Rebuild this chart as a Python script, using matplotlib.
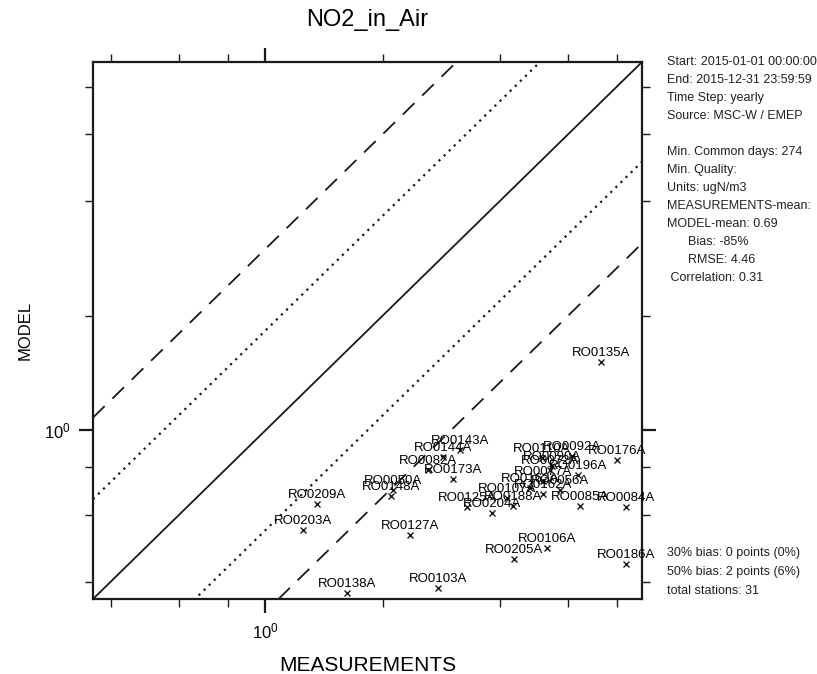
import numpy as np
import matplotlib
matplotlib.use("Agg")
import matplotlib.pyplot as plt
from matplotlib.ticker import FixedLocator, NullFormatter, LogFormatterSciNotation

plt.rcParams['font.family'] = ['Liberation Sans', 'DejaVu Sans']

# station values
stations = ['RO0135A', 'RO0176A', 'RO0092A', 'RO0084A', 'RO0085A', 'RO0186A',
            'RO0106A', 'RO0205A', 'RO0103A', 'RO0138A', 'RO0127A', 'RO0203A',
            'RO0209A', 'RO0050A', 'RO0148A', 'RO0082A', 'RO0144A', 'RO0143A',
            'RO0173A', 'RO0125A', 'RO0188A', 'RO0204A', 'RO0162A', 'RO0056A',
            'RO0077A', 'RO0196A', 'RO0072A', 'RO0110A', 'RO0090A', 'RO0107A',
            'RO0163A']
meas = [7.29, 8.02, 6.14, 8.46, 6.44, 8.46, 5.30, 4.36, 2.78, 1.62, 2.35, 1.25,
        1.357, 2.13, 2.10, 2.62, 2.86, 3.16, 3.04, 3.30, 4.33, 3.82, 5.17, 5.72,
        5.17, 6.37, 5.39, 5.14, 5.46, 4.18, 4.79]
model = [1.512, 0.835, 0.856, 0.629, 0.632, 0.445, 0.490, 0.459, 0.385, 0.373,
         0.530, 0.547, 0.640, 0.697, 0.672, 0.786, 0.851, 0.888, 0.745, 0.629,
         0.632, 0.606, 0.680, 0.697, 0.736, 0.763, 0.786, 0.846, 0.806, 0.664,
         0.705]

LIM = (0.36, 9.3)
DOT_F = 1.83
DASH_F = 3.0

info_top = ['Start: 2015-01-01 00:00:00', 'End: 2015-12-31 23:59:59',
            'Time Step: yearly', 'Source: MSC-W / EMEP', '',
            'Min. Common days: 274', 'Min. Quality:', 'Units: ugN/m3',
            'MEASUREMENTS-mean:', 'MODEL-mean: 0.69',
            '      Bias: -85%', '      RMSE: 4.46', ' Correlation: 0.31']
info_bottom = ['30% bias: 0 points (0%)', '50% bias: 2 points (6%)',
               'total stations: 31']

fig = plt.figure(figsize=(8.17, 6.74), dpi=100)
ax = fig.add_axes([93 / 817, 75 / 674, 549 / 817, 537 / 674])
ax.set_xscale('log')
ax.set_yscale('log')
ax.set_xlim(*LIM)
ax.set_ylim(*LIM)

xx = np.array(LIM)
ax.plot(xx, xx, color='#1a1a1a', lw=1.3)
for f in (DOT_F, 1 / DOT_F):
    ax.plot(xx, xx * f, color='#1a1a1a', lw=1.6, ls=(0, (1, 2.2)))
for f in (DASH_F, 1 / DASH_F):
    ax.plot(xx, xx * f, color='#1a1a1a', lw=1.3, ls=(0, (9, 6)))

ax.plot(meas, model, 'x', color='#1a1a1a', ms=4.5, mew=1)
for name, mx, my in zip(stations, meas, model):
    ax.annotate(name, (mx, my), xytext=(0, 2), textcoords='offset points',
                ha='center', va='bottom', fontsize=9.5, color='black')

minor = [0.4, 0.6, 0.8, 2, 4, 6, 8]
for axis in (ax.xaxis, ax.yaxis):
    axis.set_major_locator(FixedLocator([1]))
    axis.set_major_formatter(LogFormatterSciNotation())
    axis.set_minor_locator(FixedLocator(minor))
    axis.set_minor_formatter(NullFormatter())
ax.tick_params(which='both', direction='out', top=True, right=True, color='#1a1a1a')
ax.tick_params(which='major', length=10, width=1.6, labelsize=12, pad=6)
ax.tick_params(which='minor', length=5.5, width=1)
for s in ax.spines.values():
    s.set_linewidth(1.6)
    s.set_color('#1a1a1a')

ax.set_title('NO2_in_Air', fontsize=17, pad=26)
ax.set_xlabel('MEASUREMENTS', fontsize=15, labelpad=11)
ax.set_ylabel('MODEL', fontsize=12, labelpad=8)

for i, line in enumerate(info_top):
    fig.text(667 / 817, 1 - (62 + 18 * i) / 674, line, fontsize=9, color='#222222',
             va='center', ha='left')
for i, line in enumerate(info_bottom):
    fig.text(667 / 817, 1 - (553 + 19 * i) / 674, line, fontsize=9, color='#222222',
             va='center', ha='left')

fig.savefig('out.png', dpi=100)
